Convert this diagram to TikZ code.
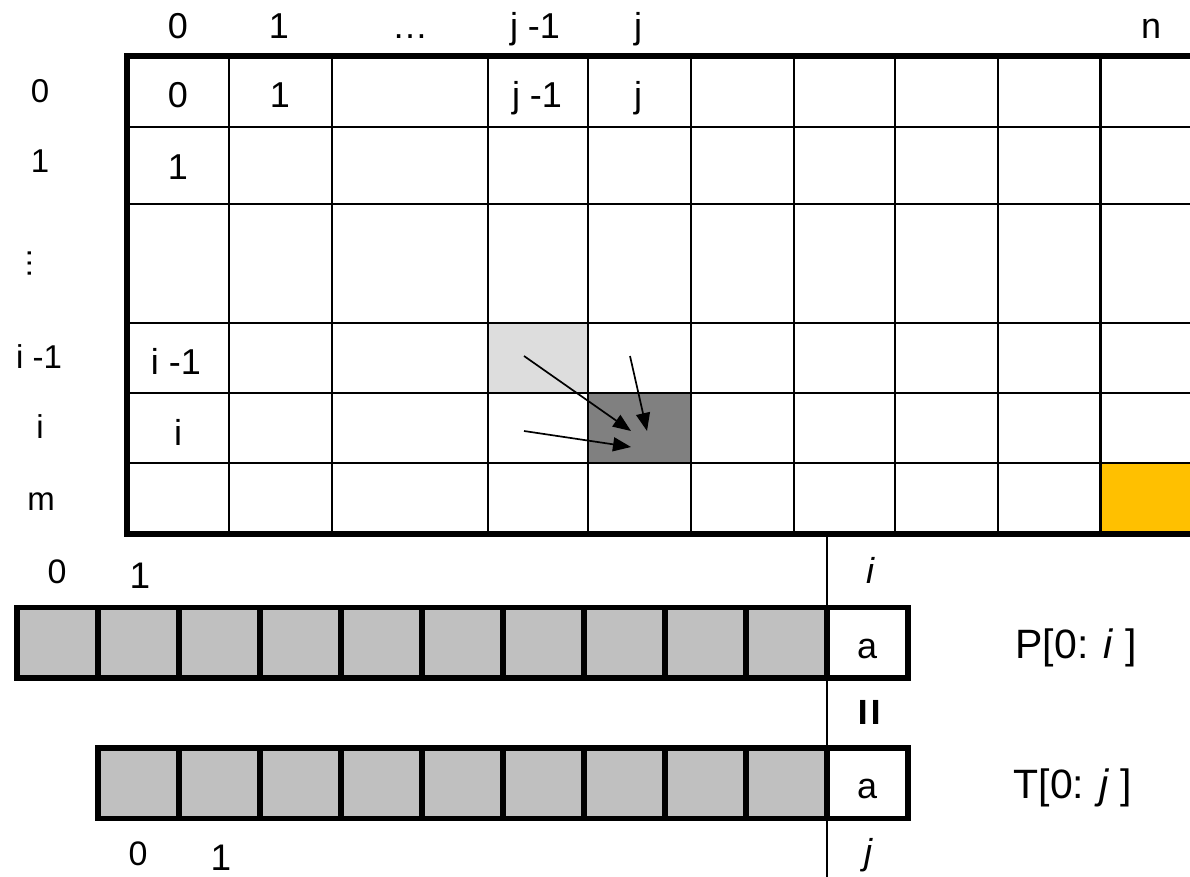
\documentclass[tikz,border=0pt]{standalone}
\usepackage{fontspec}
\setmainfont{Liberation Sans}
\usetikzlibrary{arrows.meta}
\definecolor{lightc}{HTML}{DDDDDD}
\definecolor{darkc}{HTML}{808080}
\definecolor{orangec}{HTML}{FFC000}
\definecolor{arrc}{HTML}{C0C0C0}
\begin{document}
\begin{tikzpicture}[x=1pt,y=-1pt,
  lbl/.style={font=\fontsize{36}{40}\selectfont, inner sep=0pt, anchor=base},
  rowlbl/.style={font=\fontsize{33}{38}\selectfont, inner sep=0pt, anchor=base},
  bigl/.style={font=\fontsize{41}{46}\selectfont, inner sep=0pt, anchor=base},
  thin/.style={line width=2.7pt},
  thick/.style={line width=6pt},
  arrcell/.style={draw, line width=5.5pt, fill=arrc, minimum width=81pt, minimum height=70.5pt, inner sep=0pt, outer sep=0pt},
  acell/.style={arrcell, fill=white},
  ptr/.style={line width=1.7pt, -{Triangle[length=18pt,width=14pt]}}
]
\useasboundingbox (0,0) rectangle (1190,877);
\clip (0,0) rectangle (1190,877);
% special cells
\fill[lightc] (488,323) rectangle (588,393);
\fill[darkc] (588,393) rectangle (691,463);
\fill[orangec] (1100.7,463) rectangle (1210,534);
% inner grid lines
\foreach \x in {229,332,488,588,691,794,895,998,1100.7}
  \draw[thin] (\x,56) -- (\x,534);
\foreach \y in {127,204,323,393,463}
  \draw[thin] (126.5,\y) -- (1210,\y);
% outer thick border
\draw[thick] (1210,56) -- (126.5,56) -- (126.5,534) -- (1210,534);
% column labels
\node[lbl] (c0) at (178,39) {0};
\node[lbl] (c1) at (279,39) {1};
\node[lbl] (cd) at (410,39) {…};
\node[lbl] (cj1) at (535,39) {j -1};
\node[lbl] (cj) at (638,39) {j};
\node[lbl] (cn) at (1151,39) {n};
% row labels
\node[rowlbl] (r0) at (40,103) {0};
\node[rowlbl] (r1) at (40,173) {1};
\node[font=\fontsize{32}{36}\selectfont, inner sep=0pt, rotate=90] (rd) at (29.5,263) {…};
\node[rowlbl] (ri1) at (39,368) {i -1};
\node[rowlbl] (ri) at (40,438) {i};
\node[rowlbl] (rm) at (41,510) {m};
% cell labels
\node[lbl] (e00) at (178,108) {0};
\node[lbl] (e01) at (280,108) {1};
\node[lbl] (e0j1) at (537,108) {j -1};
\node[lbl] (e0j) at (638,108) {j};
\node[lbl] (e10) at (178,180) {1};
\node[lbl] (ei10) at (176,374) {i -1};
\node[lbl] (ei0) at (178,445) {i};
% arrows
\coordinate (s1) at (524,356);
\coordinate (t1) at (631,431);
\coordinate (s2) at (630,356);
\coordinate (t2) at (647,431);
\coordinate (s3) at (524,431);
\coordinate (t3) at (631,447);
\draw[ptr] (s1) -- (t1);
\draw[ptr] (s2) -- (t2);
\draw[ptr] (s3) -- (t3);
% vertical separator
\coordinate (vt) at (827,534);
\coordinate (vb) at (827,880);
\draw[line width=2pt] (vt) -- (vb);
% P array
\foreach \k in {0,...,9}
  \node[arrcell] (p\k) at ({17+81*(\k+0.5)},642.75) {};
\node[acell] (pa) at ({17+81*10.5},642.75) {};
% T array
\foreach \k in {0,...,8}
  \node[arrcell] (t\k) at ({98+81*(\k+0.5)},783) {};
\node[acell] (ta) at ({98+81*9.5},783) {};
\node[lbl] (pal) at (867,658) {a};
\node[lbl] (tal) at (867,798) {a};
% array labels
\node[font=\fontsize{34}{38}\selectfont, inner sep=0pt, anchor=base] (p0l) at (57,583) {0};
\node[font=\fontsize{37}{40}\selectfont, inner sep=0pt, anchor=base] (p1l) at (140,588) {1};
\node[font=\fontsize{34}{38}\selectfont, inner sep=0pt, anchor=base] (t0l) at (138,865) {0};
\node[font=\fontsize{37}{40}\selectfont, inner sep=0pt, anchor=base] (t1l) at (221,870) {1};
\node[lbl] (il) at (870,583) {\itshape i};
\node[lbl] (jl) at (868,864) {\itshape j};
\node[font=\bfseries\fontsize{48}{52}\selectfont, inner sep=0pt, rotate=90] (eq) at (873,712) {=};
\node[bigl] (pl) at (1076,658) {P[0: \textit{i} ]};
\node[bigl] (tl) at (1073,798) {T[0: \textit{j} ]};
\end{tikzpicture}
\end{document}
